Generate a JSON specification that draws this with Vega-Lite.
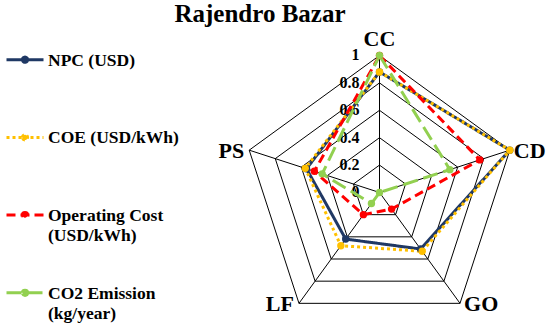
{
  "$schema": "https://vega.github.io/schema/vega-lite/v6.json",
  "width": 550,
  "height": 296,
  "autosize": {"type": "none"},
  "padding": {"top": 30, "left": 0, "right": 0, "bottom": 0},
  "background": "white",
  "title": {"text": "Rajendro Bazar", "font": "Liberation Serif", "fontSize": 25, "fontWeight": "bold", "color": "black", "anchor": "middle", "frame": "group", "dx": -15, "offset": -19.5, "baseline": "alphabetic"},
  "config": {"view": {"stroke": null}, "font": "Liberation Serif"},
  "datasets": {
    "series": [
      {"series": "NPC (USD)", "axis": "CC", "value": 0.88},
      {"series": "NPC (USD)", "axis": "CD", "value": 1.0},
      {"series": "NPC (USD)", "axis": "GO", "value": 0.51},
      {"series": "NPC (USD)", "axis": "LF", "value": 0.42},
      {"series": "NPC (USD)", "axis": "PS", "value": 0.56},
      {"series": "COE (USD/kWh)", "axis": "CC", "value": 0.88},
      {"series": "COE (USD/kWh)", "axis": "CD", "value": 1.0},
      {"series": "COE (USD/kWh)", "axis": "GO", "value": 0.53},
      {"series": "COE (USD/kWh)", "axis": "LF", "value": 0.48},
      {"series": "COE (USD/kWh)", "axis": "PS", "value": 0.57},
      {"series": "Operating Cost (USD/kWh)", "axis": "CC", "value": 1.0},
      {"series": "Operating Cost (USD/kWh)", "axis": "CD", "value": 0.77},
      {"series": "Operating Cost (USD/kWh)", "axis": "GO", "value": 0.15},
      {"series": "Operating Cost (USD/kWh)", "axis": "LF", "value": 0.2},
      {"series": "Operating Cost (USD/kWh)", "axis": "PS", "value": 0.5},
      {"series": "CO2 Emission (kg/year)", "axis": "CC", "value": 1.0},
      {"series": "CO2 Emission (kg/year)", "axis": "CD", "value": 0.54},
      {"series": "CO2 Emission (kg/year)", "axis": "GO", "value": 0.0},
      {"series": "CO2 Emission (kg/year)", "axis": "LF", "value": 0.1},
      {"series": "CO2 Emission (kg/year)", "axis": "PS", "value": 0.44}
    ],
    "grid": [
      {"level": 0.2, "axis": "CC"}, {"level": 0.2, "axis": "CD"}, {"level": 0.2, "axis": "GO"}, {"level": 0.2, "axis": "LF"}, {"level": 0.2, "axis": "PS"},
      {"level": 0.4, "axis": "CC"}, {"level": 0.4, "axis": "CD"}, {"level": 0.4, "axis": "GO"}, {"level": 0.4, "axis": "LF"}, {"level": 0.4, "axis": "PS"},
      {"level": 0.6, "axis": "CC"}, {"level": 0.6, "axis": "CD"}, {"level": 0.6, "axis": "GO"}, {"level": 0.6, "axis": "LF"}, {"level": 0.6, "axis": "PS"},
      {"level": 0.8, "axis": "CC"}, {"level": 0.8, "axis": "CD"}, {"level": 0.8, "axis": "GO"}, {"level": 0.8, "axis": "LF"}, {"level": 0.8, "axis": "PS"},
      {"level": 1.0, "axis": "CC"}, {"level": 1.0, "axis": "CD"}, {"level": 1.0, "axis": "GO"}, {"level": 1.0, "axis": "LF"}, {"level": 1.0, "axis": "PS"}
    ],
    "axes": [{"axis": "CC"}, {"axis": "CD"}, {"axis": "GO"}, {"axis": "LF"}, {"axis": "PS"}],
    "ticks": [{"tick": 0}, {"tick": 0.2}, {"tick": 0.4}, {"tick": 0.6}, {"tick": 0.8}, {"tick": 1}]
  },
  "layer": [
    {
      "data": {"name": "grid"},
      "transform": [
        {"calculate": "indexof(['CC','CD','GO','LF','PS'], datum.axis)", "as": "idx"},
        {"calculate": "datum.level * sin(datum.idx * 2 * PI / 5)", "as": "px"},
        {"calculate": "datum.level * cos(datum.idx * 2 * PI / 5)", "as": "py"}
      ],
      "mark": {"type": "line", "interpolate": "linear-closed", "stroke": "black", "strokeWidth": 1},
      "encoding": {
        "x": {"field": "px", "type": "quantitative", "scale": {"domain": [-2.7701, 1.2445], "nice": false, "zero": false}, "axis": null},
        "y": {"field": "py", "type": "quantitative", "scale": {"domain": [-0.97445, 1.1861], "nice": false, "zero": false}, "axis": null},
        "detail": {"field": "level", "type": "nominal"},
        "order": {"field": "idx", "type": "quantitative"}
      }
    },
    {
      "data": {"name": "axes"},
      "transform": [
        {"calculate": "indexof(['CC','CD','GO','LF','PS'], datum.axis)", "as": "idx"},
        {"calculate": "0", "as": "cx"},
        {"calculate": "sin(datum.idx * 2 * PI / 5)", "as": "vx"},
        {"calculate": "cos(datum.idx * 2 * PI / 5)", "as": "vy"}
      ],
      "mark": {"type": "rule", "stroke": "black", "strokeWidth": 1},
      "encoding": {
        "x": {"field": "cx", "type": "quantitative"},
        "y": {"field": "cx", "type": "quantitative"},
        "x2": {"field": "vx"},
        "y2": {"field": "vy"}
      }
    },
    {
      "data": {"name": "ticks"},
      "transform": [{"calculate": "0", "as": "cx"}],
      "mark": {"type": "text", "align": "right", "baseline": "middle", "dx": -20, "font": "Liberation Serif", "fontSize": 16, "fontWeight": "bold", "color": "black"},
      "encoding": {
        "x": {"field": "cx", "type": "quantitative"},
        "y": {"field": "tick", "type": "quantitative"},
        "text": {"field": "tick", "type": "quantitative", "format": "~g"}
      }
    },
    {
      "data": {"name": "series"},
      "transform": [
        {"calculate": "indexof(['CC','CD','GO','LF','PS'], datum.axis)", "as": "idx"},
        {"calculate": "datum.value * sin(datum.idx * 2 * PI / 5)", "as": "px"},
        {"calculate": "datum.value * cos(datum.idx * 2 * PI / 5)", "as": "py"}
      ],
      "mark": {"type": "line", "interpolate": "linear-closed", "strokeWidth": 3},
      "encoding": {
        "x": {"field": "px", "type": "quantitative"},
        "y": {"field": "py", "type": "quantitative"},
        "order": {"field": "idx", "type": "quantitative"},
        "color": {
          "field": "series", "type": "nominal",
          "scale": {"domain": ["NPC (USD)", "COE (USD/kWh)", "Operating Cost (USD/kWh)", "CO2 Emission (kg/year)"], "range": ["#1F3864", "#FFC000", "#FF0000", "#92D050"]},
          "legend": {"title": null, "orient": "none", "legendX": 5, "legendY": 9.7, "symbolType": "M-1,0L1,0M-0.14,0A0.14,0.14,0,1,1,0.14,0A0.14,0.14,0,1,1,-0.14,0Z", "symbolSize": 1369, "symbolStrokeWidth": 3, "labelFont": "Liberation Serif", "labelFontSize": 17.5, "labelFontWeight": "bold", "labelColor": "black", "labelLimit": 0, "labelBaseline": "alphabetic", "gridAlign": "all", "rowPadding": 27.7, "labelOffset": 3, "labelExpr": "datum.label == 'Operating Cost (USD/kWh)' ? ['Operating Cost', '(USD/kWh)'] : datum.label == 'CO2 Emission (kg/year)' ? ['CO2 Emission', '(kg/year)'] : [datum.label, ' ']", "encode": {"labels": {"update": {"dy": {"value": 6}, "lineHeight": {"value": 20}}}}}
        },
        "strokeDash": {
          "field": "series", "type": "nominal",
          "scale": {"domain": ["NPC (USD)", "COE (USD/kWh)", "Operating Cost (USD/kWh)", "CO2 Emission (kg/year)"], "range": [[1, 0], [3, 3], [9, 5], [15, 6]]},
          "legend": {"title": null, "orient": "none", "legendX": 5, "legendY": 9.7, "symbolType": "M-1,0L1,0M-0.14,0A0.14,0.14,0,1,1,0.14,0A0.14,0.14,0,1,1,-0.14,0Z", "symbolSize": 1369, "symbolStrokeWidth": 3, "labelFont": "Liberation Serif", "labelFontSize": 17.5, "labelFontWeight": "bold", "labelColor": "black", "labelLimit": 0, "labelBaseline": "alphabetic", "gridAlign": "all", "rowPadding": 27.7, "labelOffset": 3, "labelExpr": "datum.label == 'Operating Cost (USD/kWh)' ? ['Operating Cost', '(USD/kWh)'] : datum.label == 'CO2 Emission (kg/year)' ? ['CO2 Emission', '(kg/year)'] : [datum.label, ' ']", "encode": {"labels": {"update": {"dy": {"value": 6}, "lineHeight": {"value": 20}}}}}
        }
      }
    },
    {
      "data": {"name": "series"},
      "transform": [
        {"calculate": "indexof(['CC','CD','GO','LF','PS'], datum.axis)", "as": "idx"},
        {"calculate": "datum.value * sin(datum.idx * 2 * PI / 5)", "as": "px"},
        {"calculate": "datum.value * cos(datum.idx * 2 * PI / 5)", "as": "py"}
      ],
      "mark": {"type": "point", "filled": true, "opacity": 1, "size": 55},
      "encoding": {
        "x": {"field": "px", "type": "quantitative"},
        "y": {"field": "py", "type": "quantitative"},
        "color": {"field": "series", "type": "nominal"}
      }
    },
    {
      "data": {"name": "axes"},
      "transform": [
        {"filter": "datum.axis == 'CC'"},
        {"calculate": "0", "as": "vx"},
        {"calculate": "1", "as": "vy"}
      ],
      "mark": {"type": "text", "align": "center", "baseline": "middle", "dy": -16.5, "font": "Liberation Serif", "fontSize": 22, "fontWeight": "bold", "color": "black"},
      "encoding": {"x": {"field": "vx", "type": "quantitative"}, "y": {"field": "vy", "type": "quantitative"}, "text": {"field": "axis", "type": "nominal"}}
    },
    {
      "data": {"name": "axes"},
      "transform": [
        {"calculate": "indexof(['CC','CD','GO','LF','PS'], datum.axis)", "as": "idx"},
        {"filter": "datum.axis == 'CD' || datum.axis == 'GO'"},
        {"calculate": "sin(datum.idx * 2 * PI / 5)", "as": "vx"},
        {"calculate": "cos(datum.idx * 2 * PI / 5)", "as": "vy"}
      ],
      "mark": {"type": "text", "align": "left", "baseline": "middle", "dx": 4, "dy": 1, "font": "Liberation Serif", "fontSize": 22, "fontWeight": "bold", "color": "black"},
      "encoding": {"x": {"field": "vx", "type": "quantitative"}, "y": {"field": "vy", "type": "quantitative"}, "text": {"field": "axis", "type": "nominal"}}
    },
    {
      "data": {"name": "axes"},
      "transform": [
        {"calculate": "indexof(['CC','CD','GO','LF','PS'], datum.axis)", "as": "idx"},
        {"filter": "datum.axis == 'LF' || datum.axis == 'PS'"},
        {"calculate": "sin(datum.idx * 2 * PI / 5)", "as": "vx"},
        {"calculate": "cos(datum.idx * 2 * PI / 5)", "as": "vy"}
      ],
      "mark": {"type": "text", "align": "right", "baseline": "middle", "dx": -5, "dy": 1, "font": "Liberation Serif", "fontSize": 22, "fontWeight": "bold", "color": "black"},
      "encoding": {"x": {"field": "vx", "type": "quantitative"}, "y": {"field": "vy", "type": "quantitative"}, "text": {"field": "axis", "type": "nominal"}}
    }
  ]
}
